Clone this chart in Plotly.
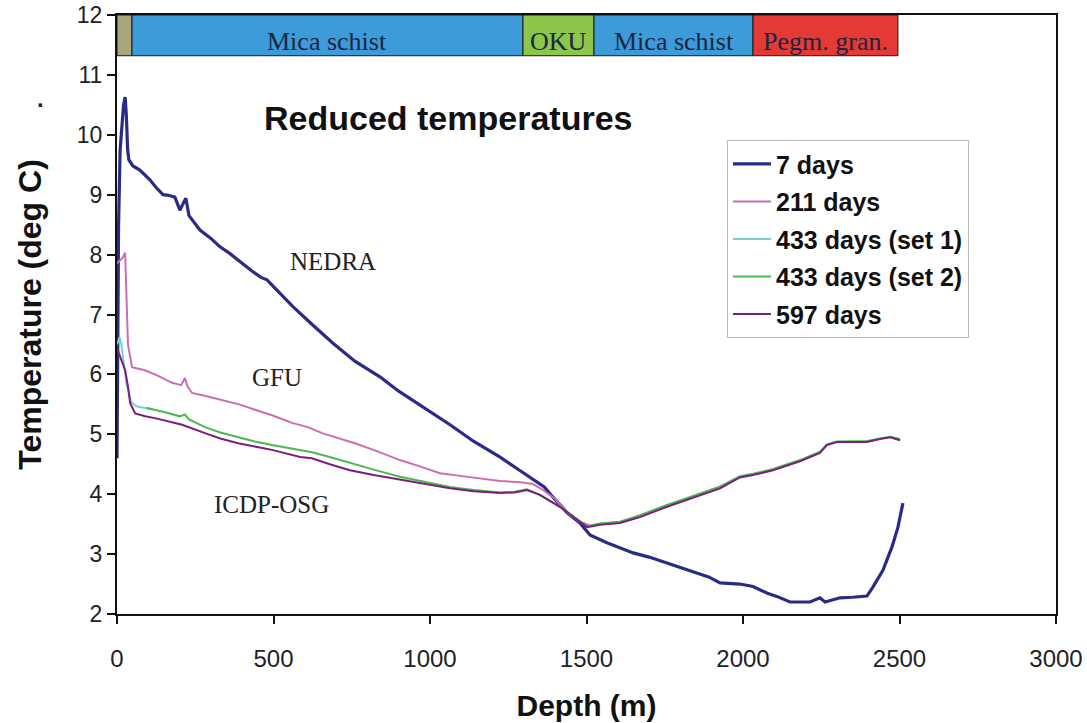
import plotly.graph_objects as go

# Lithology column along the borehole (depth boundaries in m)
litho_top = [0, 48, 1297, 1524, 2032]
litho_bottom = [48, 1297, 1524, 2032, 2495]
litho_names = ["", "Mica schist", "OKU", "Mica schist", "Pegm. gran."]
litho_colors = ["#a8a57a", "#3d9bd9", "#8cc74c", "#3d9bd9", "#e43a35"]

# Reduced temperature logs: depth (m) and temperature (deg C)
depth_7 = [0, 5, 10, 16, 21, 26, 30, 34, 38, 51, 73, 105, 125, 147, 165, 185, 201, 211,
           220, 230, 265, 300, 329, 360, 393, 430, 460, 479, 490, 520, 562, 620, 690,
           760, 840, 900, 950, 1000, 1064, 1140, 1224, 1280, 1329, 1365, 1393, 1438,
           1479, 1511, 1565, 1610, 1649, 1700, 1757, 1800, 1840, 1890, 1927, 1990,
           2032, 2076, 2110, 2150, 2214, 2246, 2262, 2290, 2310, 2350, 2396, 2415, 2447,
           2476, 2495, 2511]
temp_7 = [4.6, 8.5, 9.75, 10.2, 10.5, 10.63, 10.3, 9.75, 9.58, 9.48, 9.41, 9.25, 9.12,
          9.0, 8.99, 8.96, 8.74, 8.85, 8.94, 8.65, 8.41, 8.27, 8.13, 8.02, 7.88, 7.73,
          7.62, 7.58, 7.52, 7.36, 7.13, 6.85, 6.52, 6.22, 5.96, 5.72, 5.55, 5.38, 5.16,
          4.88, 4.62, 4.42, 4.24, 4.12, 3.95, 3.69, 3.52, 3.32, 3.19, 3.10, 3.02, 2.95,
          2.85, 2.78, 2.70, 2.62, 2.52, 2.50, 2.46, 2.35, 2.29, 2.20, 2.20, 2.27, 2.20,
          2.24, 2.27, 2.28, 2.30, 2.45, 2.73, 3.12, 3.45, 3.85]

depth_211 = [0, 8, 18, 26, 30, 35, 48, 89, 130, 176, 205, 217, 225, 240, 290, 335, 390,
             441, 500, 559, 610, 655, 700, 760, 830, 904, 970, 1032, 1090, 1150, 1224,
             1288, 1329, 1361, 1400, 1438, 1479, 1510]
temp_211 = [7.85, 7.9, 7.95, 8.03, 7.3, 6.5, 6.12, 6.07, 5.98, 5.86, 5.82, 5.94, 5.8,
            5.69, 5.63, 5.57, 5.50, 5.41, 5.31, 5.19, 5.12, 5.02, 4.95, 4.85, 4.72, 4.57,
            4.46, 4.35, 4.31, 4.27, 4.22, 4.2, 4.17, 4.07, 3.92, 3.69, 3.54, 3.48]

depth_433a = [0, 8, 14, 20, 30, 45, 55, 67, 80, 99, 115]
temp_433a = [6.5, 6.62, 6.5, 6.25, 5.85, 5.55, 5.49, 5.46, 5.45, 5.44, 5.42]

depth_433b = [95, 121, 160, 200, 217, 230, 281, 330, 387, 440, 495, 585, 623, 680, 744,
              820, 904, 980, 1064, 1140, 1224, 1270, 1310, 1351, 1415, 1479, 1502, 1543,
              1607, 1671, 1757, 1840, 1927, 1990, 2032, 2096, 2182, 2246, 2268, 2300,
              2342, 2396, 2438, 2470, 2502]
temp_433b = [5.44, 5.41, 5.36, 5.30, 5.33, 5.25, 5.12, 5.03, 4.95, 4.88, 4.82, 4.74, 4.70,
             4.62, 4.52, 4.41, 4.29, 4.21, 4.12, 4.07, 4.03, 4.04, 4.08, 3.99, 3.79, 3.55,
             3.47, 3.51, 3.54, 3.65, 3.82, 3.97, 4.13, 4.30, 4.34, 4.42, 4.57, 4.71, 4.83,
             4.88, 4.88, 4.89, 4.93, 4.96, 4.92]

depth_597 = [0, 10, 26, 35, 42, 58, 90, 121, 208, 281, 330, 387, 440, 495, 585, 623, 680,
             744, 820, 904, 980, 1064, 1140, 1224, 1270, 1310, 1351, 1415, 1479, 1502,
             1543, 1607, 1671, 1757, 1840, 1927, 1990, 2032, 2096, 2182, 2246, 2268,
             2300, 2342, 2396, 2438, 2470, 2502]
temp_597 = [6.44, 6.3, 6.07, 5.8, 5.52, 5.35, 5.30, 5.27, 5.16, 5.02, 4.93, 4.85, 4.80,
            4.74, 4.62, 4.60, 4.50, 4.40, 4.32, 4.24, 4.17, 4.10, 4.05, 4.02, 4.03, 4.07,
            3.99, 3.79, 3.54, 3.45, 3.49, 3.52, 3.62, 3.79, 3.94, 4.10, 4.28, 4.32, 4.40,
            4.55, 4.69, 4.82, 4.87, 4.87, 4.87, 4.92, 4.95, 4.90]

series = [
    ("7 days", depth_7, temp_7, "#2b2a86", 3.2),
    ("211 days", depth_211, temp_211, "#cc6db3", 2),
    ("433 days (set 1)", depth_433a, temp_433a, "#74cfd8", 2),
    ("433 days (set 2)", depth_433b, temp_433b, "#4db84e", 2),
    ("597 days", depth_597, temp_597, "#7a1f7c", 2),
]

fig = go.Figure()
for i, (name, d, t, color, width) in enumerate(series):
    fig.add_trace(go.Scatter(x=d, y=t, mode="lines", name=f"<b>{name}</b>",
                             legendgroup=f"g{i}",
                             line=dict(color=color, width=width)))

# Lithology bar along the top of the plot
bar_lo, bar_hi = 11.32, 12.0
serif_family = "Liberation Serif, Times New Roman, serif"
for x0, x1, name, color in zip(litho_top, litho_bottom, litho_names, litho_colors):
    fig.add_shape(type="rect", xref="x", yref="y", x0=x0, x1=x1, y0=bar_lo, y1=bar_hi,
                  fillcolor=color, line=dict(color="#1a1a1a", width=1), layer="above")
    if name:
        fig.add_annotation(x=(x0 + x1) / 2, y=11.55, xref="x", yref="y", text=name,
                           showarrow=False,
                           font=dict(family=serif_family, size=26, color="#1c2440"))

serif = dict(family=serif_family, size=25, color="#222222")
fig.add_annotation(x=690, y=7.88, text="NEDRA", showarrow=False, font=serif)
fig.add_annotation(x=510, y=5.94, text="GFU", showarrow=False, font=serif)
fig.add_annotation(x=492, y=3.82, text="ICDP-OSG", showarrow=False, font=serif)
fig.add_annotation(x=1058, y=10.28, text="<b>Reduced temperatures</b>", showarrow=False,
                   font=dict(family="Liberation Sans, Arial, sans-serif", size=34,
                             color="#111111"))
fig.add_annotation(x=-0.082, y=0.86, xref="paper", yref="paper", xanchor="center",
                   yanchor="middle", text="<b>.</b>", showarrow=False,
                   font=dict(family="Liberation Sans, Arial", size=24, color="#222222"))

axis_common = dict(showline=True, linecolor="#111111", linewidth=2, mirror=True,
                   ticks="outside", ticklen=8, tickwidth=1.5, tickcolor="#111111",
                   showgrid=False, zeroline=False, automargin=False)

fig.update_layout(
    width=1087, height=723,
    margin=dict(l=117, r=31, t=15, b=109),
    paper_bgcolor="white", plot_bgcolor="white",
    xaxis=dict(range=[0, 3000], dtick=500, tick0=0, **axis_common,
               tickfont=dict(family="Liberation Sans, Arial", size=24, color="#222222"),
               ticklabelstandoff=14,
               title=dict(text="<b>Depth (m)</b>", standoff=24,
                          font=dict(family="Liberation Sans, Arial", size=30,
                                    color="#111111"))),
    yaxis=dict(range=[2, 12], dtick=1, tick0=2, **axis_common,
               tickfont=dict(family="Liberation Sans, Arial", size=23, color="#222222"),
               title=dict(text="<b>Temperature (deg C)</b>", standoff=26,
                          font=dict(family="Liberation Sans, Arial", size=32,
                                    color="#111111"))),
    legend=dict(x=0.6496, y=0.791, xanchor="left", yanchor="top",
                bgcolor="white", bordercolor="#bbbbbb", borderwidth=1,
                tracegroupgap=2, itemwidth=38, traceorder="grouped",
                font=dict(family="Liberation Sans, Arial", size=25, color="#111111")),
    showlegend=True,
)

fig.write_html("out.html")
